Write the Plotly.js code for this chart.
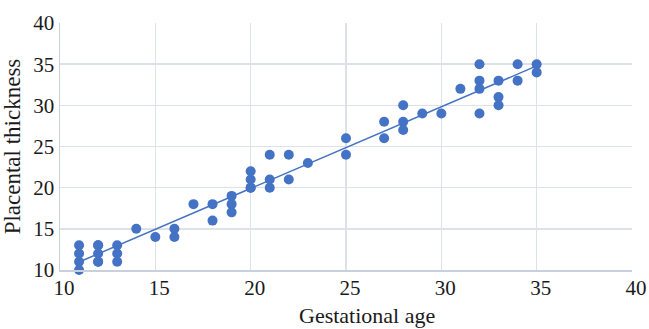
<!DOCTYPE html>
<html>
<head>
<meta charset="utf-8">
<script src="https://cdn.plot.ly/plotly-3.0.1.min.js"></script>
<style>html,body{margin:0;padding:0;background:#fff;}#chart{width:649px;height:329px;}</style>
</head>
<body>
<div id="chart"></div>
<script>
// Gestational age (weeks) vs placental thickness (mm)
const gestationalAge = [
  11, 11, 11, 11,
  12, 12, 12, 12, 12,
  13, 13, 13,
  14, 15, 16, 16, 17, 18, 18,
  19, 19, 19,
  20, 20, 20, 20,
  21, 21, 21,
  22, 22, 23,
  25, 25,
  27, 27,
  28, 28, 28,
  29, 30, 31,
  32, 32, 32, 32,
  33, 33, 33,
  34, 34,
  35, 35
];
const placentalThickness = [
  13, 12, 11, 10,
  13, 13, 12, 11, 11,
  13, 12, 11,
  15, 14, 15, 14, 18, 18, 16,
  19, 18, 17,
  22, 21, 20, 20,
  24, 21, 20,
  24, 21, 23,
  26, 24,
  28, 26,
  30, 28, 27,
  29, 29, 32,
  35, 33, 32, 29,
  33, 31, 30,
  35, 33,
  35, 34
];
const xTicks = [10, 15, 20, 25, 30, 35, 40];
const yTicks = [10, 15, 20, 25, 30, 35, 40];
const xTitle = 'Gestational age';
const yTitle = 'Placental thickness';

// least-squares linear trendline computed from the data
const n = gestationalAge.length;
let sx = 0, sy = 0, sxx = 0, sxy = 0;
for (let i = 0; i < n; i++) {
  const x = gestationalAge[i], y = placentalThickness[i];
  sx += x; sy += y; sxx += x * x; sxy += x * y;
}
const slope = (n * sxy - sx * sy) / (n * sxx - sx * sx);
const intercept = (sy - slope * sx) / n;
const xMin = Math.min(...gestationalAge), xMax = Math.max(...gestationalAge);
const trendX = [xMin, xMax];
const trendY = trendX.map(x => intercept + slope * x);

const blue = '#4472C4';
const font = 'Liberation Serif, Times New Roman, serif';
const txt = '#1a1a1a';

const data = [
  {
    x: trendX, y: trendY, type: 'scatter', mode: 'lines',
    line: {color: blue, width: 1.5}, hoverinfo: 'skip', showlegend: false, cliponaxis: false
  },
  {
    x: gestationalAge, y: placentalThickness, type: 'scatter', mode: 'markers',
    marker: {color: blue, size: 10}, showlegend: false, cliponaxis: false
  }
];

const layout = {
  width: 649, height: 329,
  margin: {l: 60, r: 17, t: 23, b: 59},
  paper_bgcolor: '#fff', plot_bgcolor: '#fff',
  font: {family: font, size: 21, color: txt},
  xaxis: {
    range: [10, 40], tickvals: xTicks, ticktext: xTicks.map(String),
    showgrid: true, gridcolor: '#dde2ea', gridwidth: 1.5,
    zeroline: false, showline: true, linecolor: '#c8d0dc', linewidth: 1.5,
    ticks: '', ticklen: 0, ticklabelshift: 4, ticklabelstandoff: -2,
    tickfont: {family: font, size: 21, color: txt}
  },
  yaxis: {
    range: [10, 40], tickvals: yTicks, ticktext: yTicks.map(String),
    showgrid: true, gridcolor: '#dde2ea', gridwidth: 1.5,
    zeroline: false, showline: true, linecolor: '#c8d0dc', linewidth: 1.5,
    ticks: '', ticklen: 0,
    title: {text: yTitle, font: {family: font, size: 23, color: txt}, standoff: 7},
    tickfont: {family: font, size: 21, color: txt}
  },
  annotations: [
    {
      text: xTitle, xref: 'paper', yref: 'paper', x: 0.537, y: -0.2389,
      xanchor: 'center', yanchor: 'bottom', showarrow: false, borderpad: 0,
      font: {family: font, size: 22, color: txt}
    }
  ]
};

Plotly.newPlot('chart', data, layout, {displayModeBar: false, staticPlot: true});
</script>
</body>
</html>
